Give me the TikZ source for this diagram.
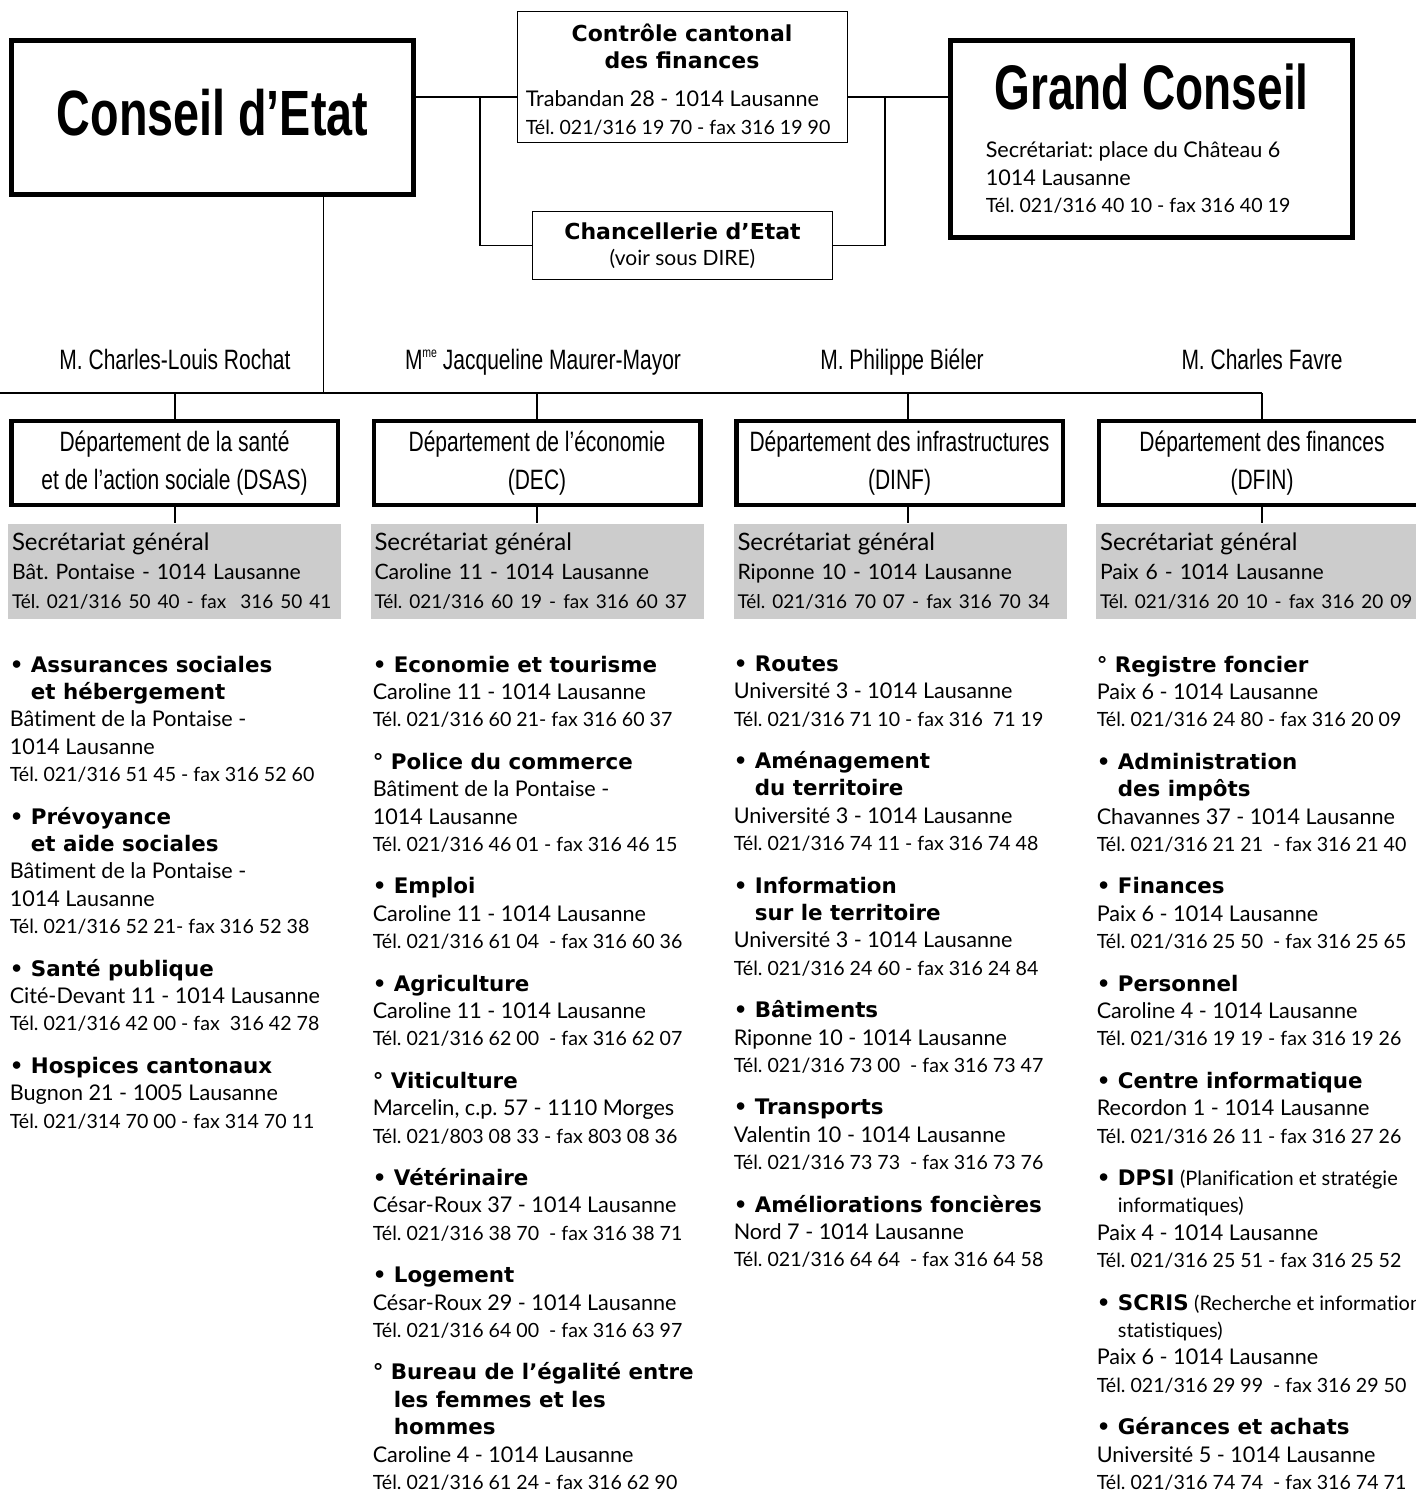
\documentclass[tikz,border=0pt]{standalone}
\usepackage{fontspec}
\setmainfont{Lato}[Ligatures={TeX,NoCommon}]
\newfontfamily\hdfont{DejaVu Sans}
\newfontfamily\cndfont[FakeStretch=0.75]{Liberation Sans}
\newfontfamily\ttlfont[FakeStretch=0.73]{Liberation Sans}
\frenchspacing

% lines of the service lists
\newcommand{\itm}[1]{{\hdfont\bfseries\fontsize{10.7}{13.7}\selectfont •\ #1}}
\newcommand{\itmo}[1]{{\hdfont\bfseries\fontsize{10.7}{13.7}\selectfont °\ #1}}
\newcommand{\ind}{{\hdfont\bfseries\fontsize{10.7}{13.7}\selectfont\hphantom{•\ }}}
\newcommand{\cnt}[1]{{\hdfont\bfseries\fontsize{10.7}{13.7}\selectfont\hphantom{•\ }#1}}
\newcommand{\nte}[1]{{\fontsize{10}{13.7}\selectfont #1}}
\newcommand{\adr}[1]{{\fontsize{10.8}{13.7}\selectfont #1}}
\newcommand{\tel}[1]{{\fontsize{9.8}{13.7}\selectfont #1}}
\newcommand{\gap}{\\[7.5pt]}
% lines of the grey boxes
\newcommand{\sgt}[1]{\mbox{\fontsize{12}{14.5}\selectfont #1}}
\newcommand{\sga}[1]{\mbox{\fontsize{10.6}{14.5}\selectfont #1}}
\newcommand{\sgp}[1]{\mbox{\fontsize{9.5}{14.5}\selectfont #1}}

\begin{document}
\begin{tikzpicture}[x=0.5pt,y=-0.5pt,line width=0.75pt,
  every node/.style={inner sep=0pt},
  bigbox/.style={draw,line width=2.4pt,minimum width=201pt},
  thinbox/.style={draw,line width=0.75pt},
  chief/.style={anchor=base,font=\cndfont\fontsize{14}{16}\selectfont},
  dept/.style={draw,line width=2.25pt,minimum width=163.25pt,minimum height=42pt,
    align=center,font=\cndfont\fontsize{14}{19}\selectfont},
  sgbox/.style={fill=black!20,text width=162.5pt,inner xsep=2pt,minimum height=47.5pt,
    align=left,font=\fontsize{10.5}{14.5}\selectfont},
  col/.style={anchor=north west,align=left,font=\fontsize{10.5}{13.7}\selectfont},
  hd/.style={font=\hdfont\bfseries\fontsize{11}{13.5}\selectfont}]

\useasboundingbox (0,0) rectangle (1416,1497);

% top
\node[bigbox,minimum height=77pt,text depth=5pt,
  font=\ttlfont\bfseries\fontsize{32}{36}\selectfont] (conseil) at (212.5,117.5) {Conseil d’Etat};

\node[thinbox,minimum width=165pt,minimum height=65.5pt] (ccf) at (682.5,77) {};
\node[hd,align=center] (ccfname) at (682,46) {Contrôle cantonal\\des finances};
\node[col] (ccfadr) at (525,90) {\adr{Trabandan 28 - 1014 Lausanne}\\
  \tel{Tél. 021/316 19 70 - fax 316 19 90}};

\node[thinbox,minimum width=150pt,minimum height=34pt,align=center,
  font=\fontsize{10.5}{13}\selectfont] (chan) at (682.5,245.5)
  {{\hdfont\bfseries\fontsize{11}{13}\selectfont Chancellerie d’Etat}\\(voir sous DIRE)};

\node[bigbox,minimum height=98.5pt] (grand) at (1151.5,139) {};
\node[font=\ttlfont\bfseries\fontsize{31.5}{36}\selectfont] (grandname) at (1151.5,86.5) {Grand Conseil};
\node[col] (grandadr) at (985,141) {\adr{Secrétariat: place du Château 6}\\
  \adr{1014 Lausanne}\\
  \tel{Tél. 021/316 40 10 - fax 316 40 19}};

\coordinate (hl) at (480,97);
\coordinate (hr) at (885,97);
\draw (conseil.east |- hl) -- (ccf.west |- hl);
\draw (ccf.east |- hr) -- (grand.west |- hr);
\draw (hl) |- (chan.west);
\draw (hr) |- (chan.east);

% chefs de departement
\node[chief] (rochat) at (175,370) {M. Charles-Louis Rochat};
\node[chief] (maurer) at (543,370) {M\raisebox{0.45em}{\fontsize{7}{7}\selectfont me} Jacqueline Maurer-Mayor};
\node[chief] (bieler) at (902,370) {M. Philippe Biéler};
\node[chief] (favre) at (1262,370) {M. Charles Favre};

% departements
\node[dept] (dsas) at (174.5,463) {Département de la santé\\et de l’action sociale (DSAS)};
\node[dept] (dec) at (537,463) {Département de l’économie\\(DEC)};
\node[dept] (dinf) at (899.5,463) {Département des infrastructures\\(DINF)};
\node[dept] (dfin) at (1262,463) {Département des finances\\(DFIN)};

\node[sgbox] (sgdsas) at (174.5,571.5) {\sgt{Secrétariat général}\\
  \sga{Bât. Pontaise - 1014 Lausanne}\\\sgp{Tél. 021/316 50 40 - fax~ 316 50 41}};
\node[sgbox] (sgdec) at (537,571.5) {\sgt{Secrétariat général}\\
  \sga{Caroline 11 - 1014 Lausanne}\\\sgp{Tél. 021/316 60 19 - fax 316 60 37}};
\node[sgbox] (sgdinf) at (900,571.5) {\sgt{Secrétariat général}\\
  \sga{Riponne 10 - 1014 Lausanne}\\\sgp{Tél. 021/316 70 07 - fax 316 70 34}};
\node[sgbox] (sgdfin) at (1262.5,571.5) {\sgt{Secrétariat général}\\
  \sga{Paix 6 - 1014 Lausanne}\\\sgp{Tél. 021/316 20 10 - fax 316 20 09}};

\coordinate (bus) at (0,393);
\coordinate (jce) at (323.5,393);
\draw (conseil.south -| jce) -- (jce);
\foreach \d/\x in {dsas/175,dec/537,dinf/908,dfin/1262}{
  \coordinate (j\d) at (\x,393);
  \draw (j\d) -- (j\d |- \d.north);
  \draw (j\d |- \d.south) -- (j\d |- sg\d.north);
}
\draw (bus) -- (jdfin);

% services
\node[col] (ldsas) at (9,655) {\itm{Assurances sociales}\\
  \cnt{et hébergement}\\
  \adr{Bâtiment de la Pontaise -}\\
  \adr{1014 Lausanne}\\
  \tel{Tél. 021/316 51 45 - fax 316 52 60}\gap
  \itm{Prévoyance}\\
  \cnt{et aide sociales}\\
  \adr{Bâtiment de la Pontaise -}\\
  \adr{1014 Lausanne}\\
  \tel{Tél. 021/316 52 21- fax 316 52 38}\gap
  \itm{Santé publique}\\
  \adr{Cité-Devant 11 - 1014 Lausanne}\\
  \tel{Tél. 021/316 42 00 - fax~ 316 42 78}\gap
  \itm{Hospices cantonaux}\\
  \adr{Bugnon 21 - 1005 Lausanne}\\
  \tel{Tél. 021/314 70 00 - fax 314 70 11}};

\node[col] (ldec) at (372,655) {\itm{Economie et tourisme}\\
  \adr{Caroline 11 - 1014 Lausanne}\\
  \tel{Tél. 021/316 60 21- fax 316 60 37}\gap
  \itmo{Police du commerce}\\
  \adr{Bâtiment de la Pontaise -}\\
  \adr{1014 Lausanne}\\
  \tel{Tél. 021/316 46 01 - fax 316 46 15}\gap
  \itm{Emploi}\\
  \adr{Caroline 11 - 1014 Lausanne}\\
  \tel{Tél. 021/316 61 04~ - fax 316 60 36}\gap
  \itm{Agriculture}\\
  \adr{Caroline 11 - 1014 Lausanne}\\
  \tel{Tél. 021/316 62 00~ - fax 316 62 07}\gap
  \itmo{Viticulture}\\
  \adr{Marcelin, c.p. 57 - 1110 Morges}\\
  \tel{Tél. 021/803 08 33 - fax 803 08 36}\gap
  \itm{Vétérinaire}\\
  \adr{César-Roux 37 - 1014 Lausanne}\\
  \tel{Tél. 021/316 38 70~ - fax 316 38 71}\gap
  \itm{Logement}\\
  \adr{César-Roux 29 - 1014 Lausanne}\\
  \tel{Tél. 021/316 64 00~ - fax 316 63 97}\gap
  \itmo{Bureau de l’égalité entre}\\
  \cnt{les femmes et les}\\
  \cnt{hommes}\\
  \adr{Caroline 4 - 1014 Lausanne}\\
  \tel{Tél. 021/316 61 24 - fax 316 62 90}};

\node[col] (ldinf) at (733,655) {\itm{Routes}\\
  \adr{Université 3 - 1014 Lausanne}\\
  \tel{Tél. 021/316 71 10 - fax 316~ 71 19}\gap
  \itm{Aménagement}\\
  \cnt{du territoire}\\
  \adr{Université 3 - 1014 Lausanne}\\
  \tel{Tél. 021/316 74 11 - fax 316 74 48}\gap
  \itm{Information}\\
  \cnt{sur le territoire}\\
  \adr{Université 3 - 1014 Lausanne}\\
  \tel{Tél. 021/316 24 60 - fax 316 24 84}\gap
  \itm{Bâtiments}\\
  \adr{Riponne 10 - 1014 Lausanne}\\
  \tel{Tél. 021/316 73 00~ - fax 316 73 47}\gap
  \itm{Transports}\\
  \adr{Valentin 10 - 1014 Lausanne}\\
  \tel{Tél. 021/316 73 73~ - fax 316 73 76}\gap
  \itm{Améliorations foncières}\\
  \adr{Nord 7 - 1014 Lausanne}\\
  \tel{Tél. 021/316 64 64~ - fax 316 64 58}};

\node[col] (ldfin) at (1096,655) {\itmo{Registre foncier}\\
  \adr{Paix 6 - 1014 Lausanne}\\
  \tel{Tél. 021/316 24 80 - fax 316 20 09}\gap
  \itm{Administration}\\
  \cnt{des impôts}\\
  \adr{Chavannes 37 - 1014 Lausanne}\\
  \tel{Tél. 021/316 21 21~ - fax 316 21 40}\gap
  \itm{Finances}\\
  \adr{Paix 6 - 1014 Lausanne}\\
  \tel{Tél. 021/316 25 50~ - fax 316 25 65}\gap
  \itm{Personnel}\\
  \adr{Caroline 4 - 1014 Lausanne}\\
  \tel{Tél. 021/316 19 19 - fax 316 19 26}\gap
  \itm{Centre informatique}\\
  \adr{Recordon 1 - 1014 Lausanne}\\
  \tel{Tél. 021/316 26 11 - fax 316 27 26}\gap
  \itm{DPSI} \nte{(Planification et stratégie}\\
  \ind\nte{informatiques)}\\
  \adr{Paix 4 - 1014 Lausanne}\\
  \tel{Tél. 021/316 25 51 - fax 316 25 52}\gap
  \itm{SCRIS} \nte{(Recherche et information}\\
  \ind\nte{statistiques)}\\
  \adr{Paix 6 - 1014 Lausanne}\\
  \tel{Tél. 021/316 29 99~ - fax 316 29 50}\gap
  \itm{Gérances et achats}\\
  \adr{Université 5 - 1014 Lausanne}\\
  \tel{Tél. 021/316 74 74~ - fax 316 74 71}};

\end{tikzpicture}
\end{document}
